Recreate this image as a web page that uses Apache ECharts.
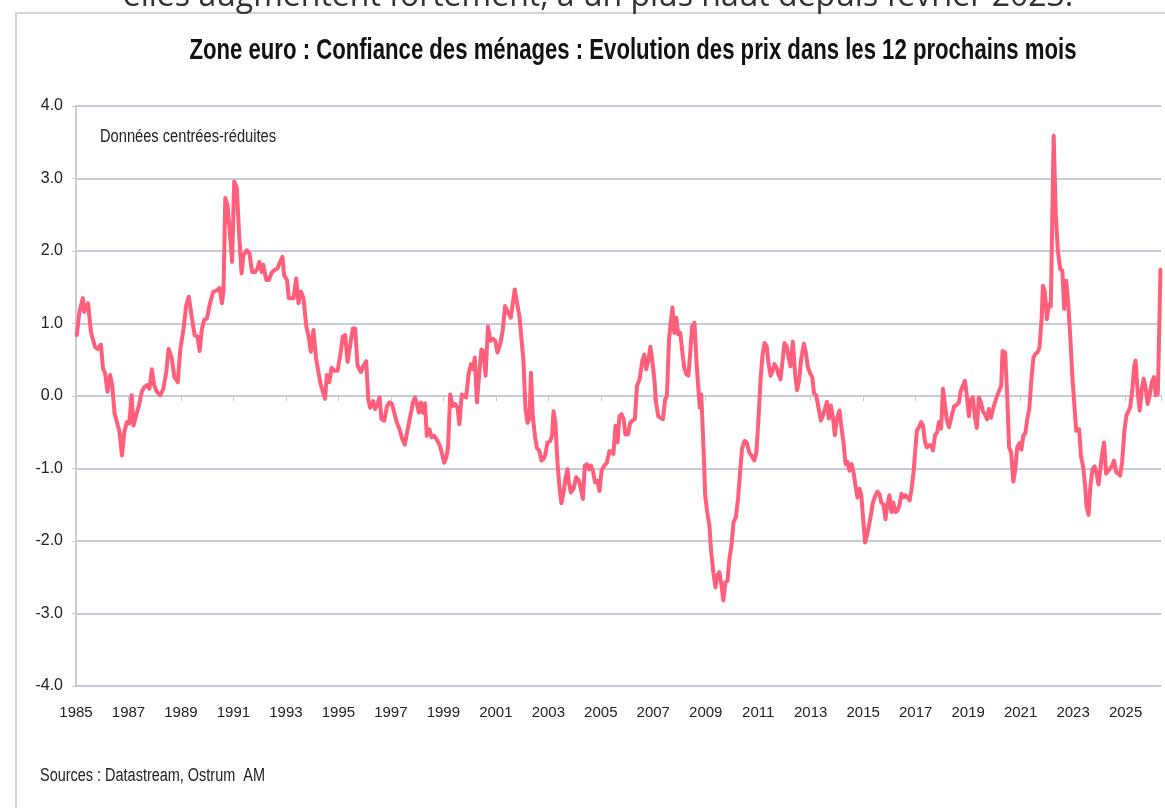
<!DOCTYPE html>
<html>
<head>
<meta charset="utf-8">
<title>Zone euro : anticipations de prix des ménages</title>
<script src="https://cdn.jsdelivr.net/npm/echarts@6/dist/echarts.min.js"></script>
<style>
  html, body { margin: 0; padding: 0; background: #fff; }
  #chart { width: 1165px; height: 808px; }
</style>
</head>
<body>
<div id="chart"></div>
<script type="text/javascript">
    // dates en années décimales et valeurs centrées-réduites
    var dates1985 = [
        1985.03, 1985.13, 1985.26, 1985.31, 1985.39, 1985.46, 1985.57, 1985.64, 1985.72, 1985.82, 1985.95,
        1986.03, 1986.11, 1986.20, 1986.30, 1986.38, 1986.47, 1986.56, 1986.66, 1986.75, 1986.84, 1986.94,
        1987.03, 1987.12, 1987.19, 1987.29, 1987.40, 1987.51, 1987.60, 1987.70, 1987.80, 1987.89, 1987.98,
        1988.08, 1988.21, 1988.33, 1988.44, 1988.53, 1988.65, 1988.75, 1988.88, 1988.97,
        1989.10, 1989.20, 1989.30, 1989.42, 1989.52, 1989.63, 1989.71, 1989.80, 1989.89, 1989.99,
        1990.09, 1990.22, 1990.37, 1990.47, 1990.56, 1990.62, 1990.69, 1990.77, 1990.85, 1990.95,
        1991.03, 1991.13, 1991.21, 1991.31, 1991.38, 1991.51, 1991.61, 1991.71, 1991.83, 1991.92, 1991.99,
        1992.08, 1992.14, 1992.25, 1992.35, 1992.47, 1992.58, 1992.68, 1992.78, 1992.87, 1992.93,
        1993.04, 1993.11, 1993.19, 1993.29, 1993.39, 1993.48, 1993.57, 1993.67, 1993.77, 1993.88, 1993.95,
        1994.05, 1994.15, 1994.24, 1994.33, 1994.41, 1994.49, 1994.56, 1994.65, 1994.74, 1994.84, 1994.97
    ];
    var vals1985 = [
        0.84, 1.16, 1.35, 1.16, 1.23, 1.28, 0.88, 0.86, 0.68, 0.65, 0.71,
        0.38, 0.31, 0.06, 0.29, 0.15, -0.24, -0.36, -0.50, -0.82, -0.50, -0.36,
        -0.38, 0.01, -0.41, -0.27, -0.13, 0.06, 0.12, 0.15, 0.10, 0.37, 0.15,
        0.06, 0.01, 0.10, 0.33, 0.65, 0.52, 0.26, 0.19, 0.63,
        0.93, 1.25, 1.37, 1.07, 0.84, 0.82, 0.62, 0.93, 1.05, 1.07,
        1.25, 1.43, 1.46, 1.49, 1.28, 1.44, 2.73, 2.64, 2.31, 1.85,
        2.96, 2.87, 2.27, 1.69, 1.94, 2.01, 1.97, 1.71, 1.71, 1.76, 1.85,
        1.71, 1.81, 1.60, 1.60, 1.71, 1.74, 1.76, 1.85, 1.92, 1.67,
        1.60, 1.35, 1.35, 1.35, 1.62, 1.28, 1.44, 1.35, 0.98, 0.79, 0.61,
        0.91, 0.52, 0.33, 0.15, 0.06, -0.04, 0.29, 0.19, 0.39, 0.35, 0.35
    ];

    var dates1995 = [
        1995.07, 1995.17, 1995.26, 1995.35, 1995.45, 1995.55, 1995.64, 1995.73, 1995.86, 1995.96,
        1996.06, 1996.14, 1996.21, 1996.32, 1996.40, 1996.49, 1996.57, 1996.64, 1996.75, 1996.85, 1996.95,
        1997.04, 1997.13, 1997.23, 1997.33, 1997.43, 1997.53, 1997.63, 1997.74, 1997.84, 1997.92, 1997.99,
        1998.07, 1998.14, 1998.22, 1998.30, 1998.37, 1998.47, 1998.55, 1998.65, 1998.75, 1998.85, 1998.94,
        1999.03, 1999.11, 1999.18, 1999.26, 1999.36, 1999.45, 1999.54, 1999.61, 1999.70, 1999.79, 1999.87, 1999.96,
        2000.05, 2000.13, 2000.20, 2000.28, 2000.37, 2000.45, 2000.53, 2000.61, 2000.70, 2000.79, 2000.89, 2000.98,
        2001.06, 2001.17, 2001.27, 2001.35, 2001.44, 2001.57, 2001.65, 2001.72, 2001.82, 2001.90, 2001.97,
        2002.05, 2002.13, 2002.21, 2002.28, 2002.34, 2002.41, 2002.49, 2002.56, 2002.66, 2002.74, 2002.82, 2002.89, 2002.97,
        2003.07, 2003.14, 2003.20, 2003.27, 2003.35, 2003.43, 2003.50, 2003.58, 2003.65, 2003.73, 2003.78, 2003.86, 2003.96,
        2004.06, 2004.17, 2004.24, 2004.32, 2004.39, 2004.47, 2004.55, 2004.62, 2004.70, 2004.78, 2004.87, 2004.95
    ];
    var vals1995 = [
        0.56, 0.82, 0.84, 0.47, 0.70, 0.93, 0.93, 0.42, 0.33, 0.42,
        0.48, -0.05, -0.16, -0.07, -0.18, -0.11, -0.02, -0.32, -0.34, -0.14, -0.09,
        -0.11, -0.23, -0.37, -0.46, -0.59, -0.67, -0.48, -0.28, -0.09, -0.02, -0.11,
        -0.23, -0.09, -0.23, -0.10, -0.55, -0.46, -0.57, -0.55, -0.60, -0.67, -0.78,
        -0.92, -0.85, -0.71, 0.02, -0.14, -0.11, -0.16, -0.39, 0.02, 0.00, -0.02, 0.30,
        0.44, 0.37, 0.53, -0.09, 0.32, 0.64, 0.62, 0.28, 0.96, 0.76, 0.79, 0.76,
        0.60, 0.72, 0.92, 1.24, 1.17, 1.08, 1.28, 1.47, 1.26, 1.10, 1.12,
        0.50, -0.18, -0.37, -0.32, 0.32, -0.28, -0.55, -0.71, -0.76, -0.89, -0.87, -0.80, -0.64,
        -0.62, -0.55, -0.21, -0.37, -0.92, -1.28, -1.48, -1.33, -1.15, -1.01, -1.19, -1.33, -1.28,
        -1.12, -1.17, -1.28, -1.42, -0.96, -0.94, -1.01, -0.96, -1.03, -1.19, -1.17, -1.31
    ];

    var dates2005 = [
        2005.03, 2005.13, 2005.23, 2005.33, 2005.41, 2005.48, 2005.56, 2005.64, 2005.71, 2005.79, 2005.87, 2005.94,
        2006.04, 2006.12, 2006.20, 2006.30, 2006.38, 2006.48, 2006.58, 2006.66, 2006.73, 2006.81, 2006.89, 2006.96,
        2007.04, 2007.11, 2007.19, 2007.27, 2007.37, 2007.45, 2007.52, 2007.60, 2007.68, 2007.73, 2007.80, 2007.88, 2007.95,
        2008.03, 2008.11, 2008.18, 2008.26, 2008.34, 2008.41, 2008.48, 2008.57, 2008.65, 2008.72, 2008.77, 2008.83, 2008.88, 2008.93, 2008.98,
        2009.06, 2009.14, 2009.21, 2009.29, 2009.37, 2009.44, 2009.52, 2009.60, 2009.67, 2009.75, 2009.83, 2009.90, 2009.98,
        2010.06, 2010.15, 2010.23, 2010.30, 2010.38, 2010.48, 2010.56, 2010.66, 2010.76, 2010.85, 2010.93,
        2011.01, 2011.09, 2011.16, 2011.24, 2011.32, 2011.39, 2011.47, 2011.54, 2011.62, 2011.70, 2011.77, 2011.85, 2011.92,
        2012.00, 2012.08, 2012.15, 2012.23, 2012.32, 2012.41, 2012.48, 2012.56, 2012.64, 2012.74, 2012.81, 2012.89, 2012.98,
        2013.06, 2013.13, 2013.21, 2013.29, 2013.39, 2013.46, 2013.54, 2013.62, 2013.69, 2013.77, 2013.85, 2013.92,
        2014.00, 2014.10, 2014.17, 2014.25, 2014.33, 2014.40, 2014.48, 2014.56, 2014.63, 2014.71, 2014.78, 2014.86, 2014.93, 2014.99
    ];
    var vals2005 = [
        -1.03, -0.96, -0.92, -0.76, -0.77, -0.80, -0.41, -0.64, -0.28, -0.25, -0.32, -0.53,
        -0.53, -0.37, -0.34, -0.32, 0.14, 0.23, 0.48, 0.57, 0.37, 0.48, 0.68, 0.50,
        0.23, -0.10, -0.28, -0.30, -0.32, -0.05, 0.00, 0.78, 1.06, 1.22, 0.87, 1.08, 0.85,
        0.87, 0.60, 0.39, 0.30, 0.28, 0.60, 0.96, 1.01, 0.46, 0.09, -0.16, 0.02, -0.41, -0.87, -1.38,
        -1.61, -1.79, -2.16, -2.43, -2.64, -2.48, -2.43, -2.61, -2.82, -2.57, -2.55, -2.25, -2.06,
        -1.74, -1.67, -1.42, -1.10, -0.73, -0.62, -0.64, -0.78, -0.83, -0.89, -0.78,
        -0.32, 0.23, 0.55, 0.73, 0.69, 0.46, 0.28, 0.34, 0.44, 0.39, 0.30, 0.23, 0.21,
        0.73, 0.69, 0.55, 0.41, 0.75, 0.29, 0.08, 0.22, 0.52, 0.72, 0.61, 0.40, 0.31,
        0.26, 0.03, 0.01, -0.15, -0.34, -0.27, -0.18, -0.08, -0.31, -0.13, -0.31, -0.54,
        -0.31, -0.20, -0.43, -0.64, -0.94, -0.91, -1.03, -0.94, -1.05, -1.24, -1.40, -1.28, -1.37, -1.65
    ];

    var dates2015 = [
        2015.07, 2015.14, 2015.22, 2015.29, 2015.37, 2015.47, 2015.54, 2015.62, 2015.69, 2015.77, 2015.85, 2015.92,
        2016.00, 2016.08, 2016.15, 2016.23, 2016.31, 2016.38, 2016.46, 2016.54, 2016.61, 2016.69, 2016.77, 2016.84, 2016.92,
        2017.00, 2017.05, 2017.13, 2017.21, 2017.28, 2017.36, 2017.43, 2017.51, 2017.59, 2017.66, 2017.74, 2017.82, 2017.89, 2017.97,
        2018.04, 2018.12, 2018.19, 2018.27, 2018.37, 2018.47, 2018.57, 2018.65, 2018.72, 2018.80, 2018.88, 2018.95,
        2019.03, 2019.10, 2019.18, 2019.26, 2019.33, 2019.41, 2019.49, 2019.56, 2019.64, 2019.72, 2019.79, 2019.87, 2019.95,
        2020.02, 2020.10, 2020.18, 2020.26, 2020.31, 2020.41, 2020.49, 2020.56, 2020.64, 2020.72, 2020.80, 2020.87, 2020.95,
        2021.03, 2021.10, 2021.18, 2021.26, 2021.33, 2021.41, 2021.49, 2021.56, 2021.64, 2021.72, 2021.80, 2021.85, 2021.92,
        2022.00, 2022.08, 2022.15, 2022.26, 2022.34, 2022.42, 2022.51, 2022.59, 2022.66, 2022.74, 2022.82, 2022.89, 2022.97,
        2023.05, 2023.12, 2023.23, 2023.30, 2023.38, 2023.46, 2023.51, 2023.59, 2023.66, 2023.74, 2023.82, 2023.89, 2023.97,
        2024.05, 2024.12, 2024.18, 2024.26, 2024.33, 2024.41, 2024.49, 2024.56, 2024.64, 2024.72, 2024.79, 2024.87, 2024.95,
        2025.03, 2025.10, 2025.18, 2025.26, 2025.33, 2025.38, 2025.46, 2025.54, 2025.62, 2025.69, 2025.77, 2025.84, 2025.92,
        2026.00, 2026.08, 2026.15, 2026.23, 2026.33
    ];
    var vals2015 = [
        -2.02, -1.93, -1.79, -1.65, -1.47, -1.37, -1.32, -1.35, -1.47, -1.49, -1.70, -1.51,
        -1.37, -1.60, -1.47, -1.60, -1.58, -1.51, -1.35, -1.40, -1.37, -1.40, -1.44, -1.30, -1.05,
        -0.68, -0.47, -0.43, -0.36, -0.41, -0.64, -0.71, -0.68, -0.68, -0.75, -0.54, -0.50, -0.36, -0.45,
        0.10, -0.13, -0.34, -0.43, -0.28, -0.14, -0.12, -0.09, 0.07, 0.14, 0.21, 0.00,
        -0.28, -0.05, -0.02, -0.30, -0.44, -0.02, -0.09, -0.21, -0.25, -0.32, -0.18, -0.30, -0.18,
        -0.09, 0.00, 0.07, 0.14, 0.62, 0.60, 0.00, -0.71, -0.78, -1.18, -1.01, -0.71, -0.65,
        -0.74, -0.55, -0.51, -0.30, -0.18, 0.23, 0.53, 0.58, 0.60, 0.67, 1.06, 1.52, 1.45,
        1.06, 1.27, 1.24, 3.59, 2.50, 2.00, 1.75, 1.73, 1.20, 1.59, 1.25, 0.83, 0.28,
        -0.14, -0.48, -0.46, -0.83, -0.97, -1.24, -1.52, -1.64, -1.24, -1.01, -0.97, -1.06, -1.22,
        -0.97, -0.77, -0.64, -1.07, -1.05, -1.00, -0.96, -0.89, -1.05, -1.07, -1.10, -0.91, -0.50,
        -0.27, -0.22, -0.15, 0.10, 0.42, 0.49, 0.06, -0.20, 0.10, 0.24, 0.10, -0.11, 0.01,
        0.19, 0.26, 0.01, 0.03, 1.74
    ];

    // graduations
    var yearTicks = [1985, 1987, 1989, 1991, 1993, 1995, 1997, 1999, 2001, 2003, 2005,
                     2007, 2009, 2011, 2013, 2015, 2017, 2019, 2021, 2023, 2025];
    var yTicks = [-4, -3, -2, -1, 0, 1, 2, 3, 4];

    var dates = dates1985.concat(dates1995, dates2005, dates2015);
    var vals = vals1985.concat(vals1995, vals2005, vals2015);
    var points = dates.map(function (d, i) { return [d, vals[i]]; });

    var SANS = "'Liberation Sans', Arial, sans-serif";
    var GRID = '#C9C9DC';

    // largeur de texte "étroit" : Liberation Sans compressé horizontalement
    var measureCtx = document.createElement('canvas').getContext('2d');
    function squeeze(text, font, targetWidth) {
        measureCtx.font = font;
        return targetWidth / measureCtx.measureText(text).width;
    }

    var titleText = 'Zone euro : Confiance des ménages : Evolution des prix dans les 12 prochains mois';
    var topText = 'elles augmentent fortement, à un plus haut depuis février 2023.';
    var noteText = 'Données centrées-réduites';
    var srcText = 'Sources : Datastream, Ostrum  AM';

    var chart = echarts.init(document.getElementById('chart'), null, { renderer: 'canvas' });

    var option = {
        animation: false,
        backgroundColor: '#ffffff',
        grid: { left: 76, right: 4, top: 106, bottom: 122, containLabel: false },
        xAxis: [
            {
                // axe sur le zéro : uniquement les graduations
                type: 'value',
                min: yearTicks[0],
                max: 2026.35,
                interval: 2,
                axisLine: { onZero: true, lineStyle: { color: GRID, width: 2 } },
                axisTick: { show: true, length: 5, lineStyle: { color: GRID, width: 1 } },
                axisLabel: { show: false },
                splitLine: { show: false }
            },
            {
                // libellés des années en bas
                type: 'value',
                position: 'bottom',
                min: yearTicks[0],
                max: 2026.35,
                interval: 2,
                axisLine: { show: false, onZero: false },
                axisTick: { show: false },
                splitLine: { show: false },
                axisLabel: {
                    color: '#222',
                    fontFamily: SANS,
                    fontSize: 15,
                    margin: 19,
                    showMaxLabel: false,
                    formatter: function (v) {
                        return yearTicks.indexOf(Math.round(v * 100) / 100) >= 0 ? String(Math.round(v)) : '';
                    }
                }
            }
        ],
        yAxis: {
            type: 'value',
            min: yTicks[0],
            max: yTicks[yTicks.length - 1],
            interval: 1,
            axisLine: { show: true, onZero: false, lineStyle: { color: GRID, width: 2 } },
            axisTick: { show: true, length: 4, lineStyle: { color: GRID, width: 1 } },
            splitLine: { show: true, lineStyle: { color: GRID, width: 2 } },
            axisLabel: {
                color: '#222',
                fontFamily: SANS,
                fontSize: 16,
                margin: 13,
                formatter: function (v) { return v.toFixed(1); }
            }
        },
        series: [{
            name: 'Evolution des prix dans les 12 prochains mois',
            type: 'line',
            xAxisIndex: 0,
            data: points,
            showSymbol: false,
            symbol: 'none',
            smooth: false,
            lineStyle: { color: '#FF5F7A', width: 4, join: 'round', cap: 'round' },
            z: 5
        }],
        graphic: [
            {
                type: 'rect',
                z: -10,
                shape: { x: 16, y: 13, width: 1200, height: 900 },
                style: { fill: 'none', stroke: '#D4D4D4', lineWidth: 2 }
            },
            {
                type: 'text',
                x: 598,
                y: 13,
                style: {
                    text: topText,
                    fontFamily: "'Open Sans', sans-serif",
                    fontSize: 32,
                    fill: '#333',
                    align: 'center',
                    verticalAlign: 'bottom'
                }
            },
            {
                type: 'text',
                x: 633,
                y: 51,
                scaleX: squeeze(titleText, 'bold 30px ' + SANS, 887),
                style: {
                    text: titleText,
                    fontFamily: SANS,
                    fontWeight: 'bold',
                    fontSize: 30,
                    fill: '#111',
                    align: 'center',
                    verticalAlign: 'middle'
                }
            },
            {
                type: 'text',
                x: 100,
                y: 137,
                scaleX: squeeze(noteText, '18px ' + SANS, 176),
                style: {
                    text: noteText,
                    fontFamily: SANS,
                    fontSize: 18,
                    fill: '#222',
                    align: 'left',
                    verticalAlign: 'middle'
                }
            },
            {
                type: 'text',
                x: 40,
                y: 776,
                scaleX: squeeze(srcText, '18px ' + SANS, 225),
                style: {
                    text: srcText,
                    fontFamily: SANS,
                    fontSize: 18,
                    fill: '#222',
                    align: 'left',
                    verticalAlign: 'middle'
                }
            }
        ]
    };

    chart.setOption(option);
</script>
</body>
</html>
